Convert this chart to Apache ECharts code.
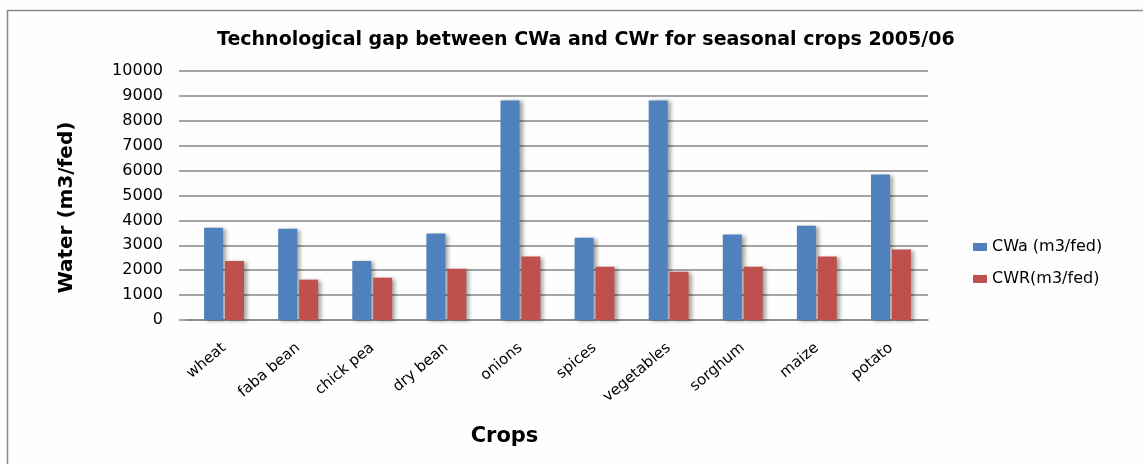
<!DOCTYPE html>
<html>
<head>
<meta charset="utf-8">
<script src="https://cdn.jsdelivr.net/npm/echarts@6/dist/echarts.min.js"></script>
<style>html,body{margin:0;padding:0;background:#fff}#c{width:1143px;height:464px}</style>
</head>
<body>
<div id="c"></div>
<script>
const categories = ['wheat','faba bean','chick pea','dry bean','onions','spices','vegetables','sorghum','maize','potato'];
const cwa = [3700, 3660, 2370, 3470, 8820, 3300, 8820, 3430, 3790, 5840];
const cwr = [2370, 1620, 1700, 2060, 2550, 2140, 1940, 2140, 2550, 2830];
const seriesNames = ['CWa (m3/fed)', 'CWR(m3/fed)'];
const yTicks = {min: 0, max: 10000, interval: 1000};

const chart = echarts.init(document.getElementById('c'));
const font = 'DejaVu Sans';
const barShadow = {shadowColor: 'rgba(0,0,0,0.35)', shadowBlur: 4, shadowOffsetX: 3, shadowOffsetY: 1};
chart.setOption({
  backgroundColor: '#fefefe',
  animation: false,
  title: {
    text: 'Technological gap between CWa and CWr for seasonal crops 2005/06',
    left: 212, top: 26,
    textStyle: {fontFamily: font, fontWeight: 'bold', fontSize: 19, color: '#000'}
  },
  graphic: [{
    type: 'rect', shape: {x: 7.5, y: 10.5, width: 1160, height: 480},
    style: {fill: 'none', stroke: '#8a8a8a', lineWidth: 1.5}, silent: true
  }],
  legend: {
    orient: 'vertical', left: 968, top: 234,
    itemWidth: 14, itemHeight: 8, itemGap: 16,
    icon: 'rect',
    textStyle: {fontFamily: font, fontSize: 16, color: '#000'},
    data: seriesNames
  },
  grid: {left: 187, right: 215, top: 71, bottom: 144},
  xAxis: {
    type: 'category', data: categories,
    name: 'Crops', nameLocation: 'middle', nameGap: 106,
    nameTextStyle: {fontFamily: font, fontWeight: 'bold', fontSize: 21, color: '#000', padding: [0, 106, 0, 0]},
    axisLine: {lineStyle: {color: '#868686', width: 1.5}},
    axisTick: {show: false},
    axisLabel: {rotate: 40, fontFamily: font, fontSize: 15, color: '#000', margin: 26, interval: 0}
  },
  yAxis: {
    type: 'value', min: yTicks.min, max: yTicks.max, interval: yTicks.interval,
    name: 'Water (m3/fed)', nameLocation: 'middle', nameGap: 110,
    nameTextStyle: {fontFamily: font, fontWeight: 'bold', fontSize: 20, color: '#000', padding: [0, 24, 0, 0]},
    axisLine: {show: false},
    axisTick: {show: true, length: 8, lineStyle: {color: '#868686', width: 1.5}},
    splitLine: {lineStyle: {color: '#868686', width: 1.5}},
    axisLabel: {fontFamily: font, fontSize: 16, color: '#000', margin: 24, formatter: v => String(v)}
  },
  series: [
    {name: seriesNames[0], type: 'bar', data: cwa, barWidth: 19, barGap: '10%',
     itemStyle: Object.assign({color: '#4F81BD'}, barShadow)},
    {name: seriesNames[1], type: 'bar', data: cwr, barWidth: 19,
     itemStyle: Object.assign({color: '#C0504D'}, barShadow)}
  ]
});
</script>
</body>
</html>
